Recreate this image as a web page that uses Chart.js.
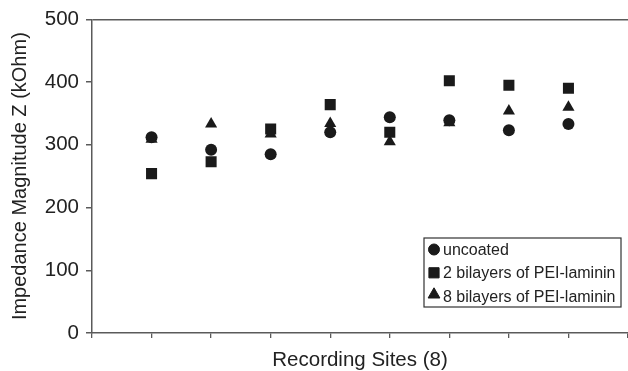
<!DOCTYPE html>
<html>
<head>
<meta charset="utf-8">
<script src="https://cdn.jsdelivr.net/npm/chart.js@4/dist/chart.umd.min.js"></script>
<style>
html,body{margin:0;padding:0;background:#fff;}
#wrap{width:628px;height:371px;}
</style>
</head>
<body>
<div id="wrap"><canvas id="c" width="628" height="371"></canvas></div>
<script>
const sites = [1, 2, 3, 4, 5, 6, 7, 8];
const uncoated = [312, 292, 285, 320, 344, 339, 323, 333];
const bilayers2 = [254, 273, 325, 364, 320, 402, 395, 390];
const bilayers8 = [309, 333, 317, 334, 305, 335, 354, 360];
const seriesNames = ['uncoated', '2 bilayers of PEI-laminin', '8 bilayers of PEI-laminin'];
const yTicks = [0, 100, 200, 300, 400, 500];

const INK = '#1a1a1a';
const AXIS = '#5a5a5a';
const FONT = "'Liberation Sans', Arial, sans-serif";

function pts(vals){ return sites.map((s,i)=>({x:s, y:vals[i]})); }

const legendPlugin = {
  id: 'boxLegend',
  afterDraw(chart){
    const ctx = chart.ctx, a = chart.chartArea;
    const right = a.right - 7, bottom = a.bottom - 26;
    const w = 197, h = 69;
    const left = right - w, top = bottom - h;
    ctx.save();
    ctx.fillStyle = '#fff';
    ctx.fillRect(left, top, w, h);
    ctx.strokeStyle = '#333';
    ctx.lineWidth = 1.2;
    ctx.strokeRect(left, top, w, h);
    ctx.font = '16px ' + FONT;
    ctx.textBaseline = 'middle';
    const styles = [
      {pointStyle:'circle', radius:5.5},
      {pointStyle:'rect', radius:7.2},
      {pointStyle:'triangle', radius:6.8}
    ];
    chart.data.datasets.forEach((ds, i)=>{
      const cy = top + 11.5 + i*23.3;
      ctx.fillStyle = INK;
      ctx.strokeStyle = INK;
      ctx.lineWidth = 1;
      const st = styles[i];
      const dy = st.pointStyle === 'triangle' ? -1.5 : 0;
      Chart.helpers.drawPoint(ctx, {pointStyle: st.pointStyle, radius: st.radius, borderWidth: 1}, left + 10, cy + dy);
      ctx.fillStyle = '#222';
      ctx.fillText(ds.label, left + 19, cy + 1);
    });
    ctx.restore();
  }
};

new Chart(document.getElementById('c'), {
  type: 'scatter',
  data: {
    datasets: [
      {label: seriesNames[0], data: pts(uncoated), pointStyle:'circle', pointRadius:6, backgroundColor:INK, borderColor:INK, borderWidth:0},
      {label: seriesNames[1], data: pts(bilayers2), pointStyle:'rect', pointRadius:7.8, backgroundColor:INK, borderColor:INK, borderWidth:0},
      {label: seriesNames[2], data: pts(bilayers8), pointStyle:'triangle', pointRadius:7, backgroundColor:INK, borderColor:INK, borderWidth:0}
    ]
  },
  options: {
    responsive: false,
    animation: false,
    devicePixelRatio: 1,
    layout: {autoPadding: false, padding: {top: 19, right: 0, left: 0, bottom: 0}},
    plugins: {legend: {display: false}, tooltip: {enabled: false}},
    elements: {point: {hoverRadius: 6}},
    scales: {
      x: {
        type: 'linear', min: 0, max: 9,
        ticks: {stepSize: 1, display: false},
        grid: {drawOnChartArea: false, drawTicks: true, tickLength: 5, color: AXIS, lineWidth: 1.3},
        border: {color: AXIS, width: 1.5},
        title: {display: true, text: 'Recording Sites (8)', color: '#222', font: {family: FONT, size: 20.5}, padding: {top: 0, bottom: -2}},
        afterFit(scale){ scale.height = 38; }
      },
      y: {
        min: 0, max: 500,
        afterBuildTicks(scale){ scale.ticks = yTicks.map(v => ({value: v})); },
        ticks: {color: '#222', font: {family: FONT, size: 20.5}, padding: 7},
        grid: {
          drawOnChartArea: true, drawTicks: true, tickLength: 6,
          color: (c) => (c.tick && c.tick.value === 500) ? AXIS : 'rgba(0,0,0,0)',
          tickColor: AXIS, lineWidth: 1.5
        },
        border: {color: AXIS, width: 1.5},
        title: {display: true, text: 'Impedance Magnitude Z (kOhm)', color: '#222', font: {family: FONT, size: 20}, padding: {top: 8, bottom: 0}},
        afterFit(scale){ scale.width = 92; }
      }
    }
  },
  plugins: [legendPlugin]
});
</script>
</body>
</html>
